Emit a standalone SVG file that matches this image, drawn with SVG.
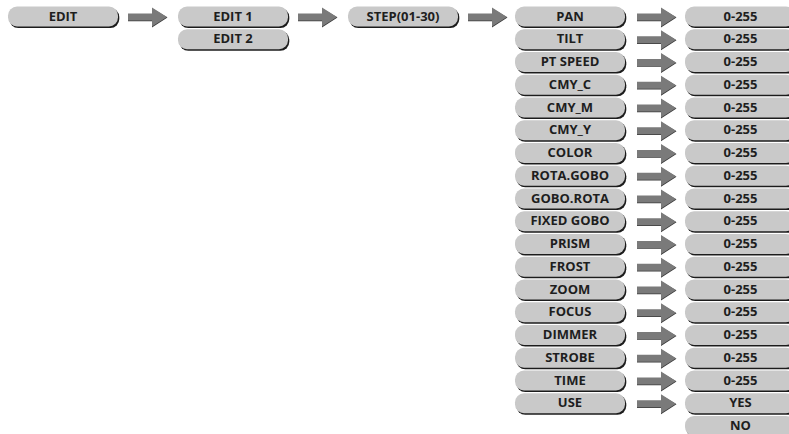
<svg xmlns="http://www.w3.org/2000/svg" xmlns:xlink="http://www.w3.org/1999/xlink" width="789" height="434" viewBox="0 0 789 434">
<style>
.lbl{font-family:"Open Sans","Liberation Sans",sans-serif;font-weight:bold;font-size:13px;fill:#1e1e1e;text-anchor:middle}
.sh{fill:#1c1c1c}
.face{fill:#c9c9c9}
.ash{fill:#3a3a3a}
.aface{fill:#7a7a7a}
</style>
<defs>
<g id="pill">
<rect class="sh" x="1.3" y="1.6" width="110" height="20" rx="9" ry="9"/>
<rect class="face" x="0" y="0" width="110" height="20" rx="9" ry="9"/>
</g>
<g id="arr">
<path class="ash" d="M0,7.8 H24 V1.8 L39.5,11 L24,21 V14.8 H0 Z"/>
<path class="aface" d="M0,7 H24 V1 L39,10.5 L24,20 V14 H0 Z"/>
</g>
</defs>
<rect width="789" height="434" fill="#ffffff"/>
<g id="connectors">
<use xlink:href="#arr" x="128" y="6.5"/>
<use xlink:href="#arr" x="298" y="6.5"/>
<use xlink:href="#arr" x="468" y="6.5"/>
<use xlink:href="#arr" x="637" y="6.5"/>
<use xlink:href="#arr" x="637" y="29.25"/>
<use xlink:href="#arr" x="637" y="52"/>
<use xlink:href="#arr" x="637" y="74.75"/>
<use xlink:href="#arr" x="637" y="97.5"/>
<use xlink:href="#arr" x="637" y="120.25"/>
<use xlink:href="#arr" x="637" y="143"/>
<use xlink:href="#arr" x="637" y="165.75"/>
<use xlink:href="#arr" x="637" y="188.5"/>
<use xlink:href="#arr" x="637" y="211.25"/>
<use xlink:href="#arr" x="637" y="234"/>
<use xlink:href="#arr" x="637" y="256.75"/>
<use xlink:href="#arr" x="637" y="279.5"/>
<use xlink:href="#arr" x="637" y="302.25"/>
<use xlink:href="#arr" x="637" y="325"/>
<use xlink:href="#arr" x="637" y="347.75"/>
<use xlink:href="#arr" x="637" y="370.5"/>
<use xlink:href="#arr" x="637" y="393.25"/>
</g>
<g id="edit"><use xlink:href="#pill" x="8" y="6.5"/><text class="lbl" x="63" y="20.5">EDIT</text></g>
<g id="edit1"><use xlink:href="#pill" x="178" y="6.5"/><text class="lbl" x="233" y="20.5">EDIT 1</text></g>
<g id="edit2"><use xlink:href="#pill" x="178" y="29.25"/><text class="lbl" x="233" y="43.25">EDIT 2</text></g>
<g id="step"><use xlink:href="#pill" x="348" y="6.5"/><text class="lbl" x="403" y="20.5">STEP(01-30)</text></g>
<g id="pan"><use xlink:href="#pill" x="515" y="6.5"/><text class="lbl" x="570" y="20.5">PAN</text></g>
<g id="tilt"><use xlink:href="#pill" x="515" y="29.25"/><text class="lbl" x="570" y="43.25">TILT</text></g>
<g id="ptspeed"><use xlink:href="#pill" x="515" y="52"/><text class="lbl" x="570" y="66">PT SPEED</text></g>
<g id="cmyc"><use xlink:href="#pill" x="515" y="74.75"/><text class="lbl" x="570" y="88.75">CMY_C</text></g>
<g id="cmym"><use xlink:href="#pill" x="515" y="97.5"/><text class="lbl" x="570" y="111.5">CMY_M</text></g>
<g id="cmyy"><use xlink:href="#pill" x="515" y="120.25"/><text class="lbl" x="570" y="134.25">CMY_Y</text></g>
<g id="color"><use xlink:href="#pill" x="515" y="143"/><text class="lbl" x="570" y="157">COLOR</text></g>
<g id="rotagobo"><use xlink:href="#pill" x="515" y="165.75"/><text class="lbl" x="570" y="179.75">ROTA.GOBO</text></g>
<g id="goborota"><use xlink:href="#pill" x="515" y="188.5"/><text class="lbl" x="570" y="202.5">GOBO.ROTA</text></g>
<g id="fixedgobo"><use xlink:href="#pill" x="515" y="211.25"/><text class="lbl" x="570" y="225.25">FIXED GOBO</text></g>
<g id="prism"><use xlink:href="#pill" x="515" y="234"/><text class="lbl" x="570" y="248">PRISM</text></g>
<g id="frost"><use xlink:href="#pill" x="515" y="256.75"/><text class="lbl" x="570" y="270.75">FROST</text></g>
<g id="zoom"><use xlink:href="#pill" x="515" y="279.5"/><text class="lbl" x="570" y="293.5">ZOOM</text></g>
<g id="focus"><use xlink:href="#pill" x="515" y="302.25"/><text class="lbl" x="570" y="316.25">FOCUS</text></g>
<g id="dimmer"><use xlink:href="#pill" x="515" y="325"/><text class="lbl" x="570" y="339">DIMMER</text></g>
<g id="strobe"><use xlink:href="#pill" x="515" y="347.75"/><text class="lbl" x="570" y="361.75">STROBE</text></g>
<g id="time"><use xlink:href="#pill" x="515" y="370.5"/><text class="lbl" x="570" y="384.5">TIME</text></g>
<g id="use"><use xlink:href="#pill" x="515" y="393.25"/><text class="lbl" x="570" y="407.25">USE</text></g>
<g id="v-pan"><use xlink:href="#pill" x="685" y="6.5"/><text class="lbl" x="740.5" y="20.5">0-255</text></g>
<g id="v-tilt"><use xlink:href="#pill" x="685" y="29.25"/><text class="lbl" x="740.5" y="43.25">0-255</text></g>
<g id="v-ptspeed"><use xlink:href="#pill" x="685" y="52"/><text class="lbl" x="740.5" y="66">0-255</text></g>
<g id="v-cmyc"><use xlink:href="#pill" x="685" y="74.75"/><text class="lbl" x="740.5" y="88.75">0-255</text></g>
<g id="v-cmym"><use xlink:href="#pill" x="685" y="97.5"/><text class="lbl" x="740.5" y="111.5">0-255</text></g>
<g id="v-cmyy"><use xlink:href="#pill" x="685" y="120.25"/><text class="lbl" x="740.5" y="134.25">0-255</text></g>
<g id="v-color"><use xlink:href="#pill" x="685" y="143"/><text class="lbl" x="740.5" y="157">0-255</text></g>
<g id="v-rotagobo"><use xlink:href="#pill" x="685" y="165.75"/><text class="lbl" x="740.5" y="179.75">0-255</text></g>
<g id="v-goborota"><use xlink:href="#pill" x="685" y="188.5"/><text class="lbl" x="740.5" y="202.5">0-255</text></g>
<g id="v-fixedgobo"><use xlink:href="#pill" x="685" y="211.25"/><text class="lbl" x="740.5" y="225.25">0-255</text></g>
<g id="v-prism"><use xlink:href="#pill" x="685" y="234"/><text class="lbl" x="740.5" y="248">0-255</text></g>
<g id="v-frost"><use xlink:href="#pill" x="685" y="256.75"/><text class="lbl" x="740.5" y="270.75">0-255</text></g>
<g id="v-zoom"><use xlink:href="#pill" x="685" y="279.5"/><text class="lbl" x="740.5" y="293.5">0-255</text></g>
<g id="v-focus"><use xlink:href="#pill" x="685" y="302.25"/><text class="lbl" x="740.5" y="316.25">0-255</text></g>
<g id="v-dimmer"><use xlink:href="#pill" x="685" y="325"/><text class="lbl" x="740.5" y="339">0-255</text></g>
<g id="v-strobe"><use xlink:href="#pill" x="685" y="347.75"/><text class="lbl" x="740.5" y="361.75">0-255</text></g>
<g id="v-time"><use xlink:href="#pill" x="685" y="370.5"/><text class="lbl" x="740.5" y="384.5">0-255</text></g>
<g id="v-yes"><use xlink:href="#pill" x="685" y="393.25"/><text class="lbl" x="740.5" y="407.25">YES</text></g>
<g id="v-no"><use xlink:href="#pill" x="685" y="416"/><text class="lbl" x="740.5" y="429.6">NO</text></g>
</svg>
